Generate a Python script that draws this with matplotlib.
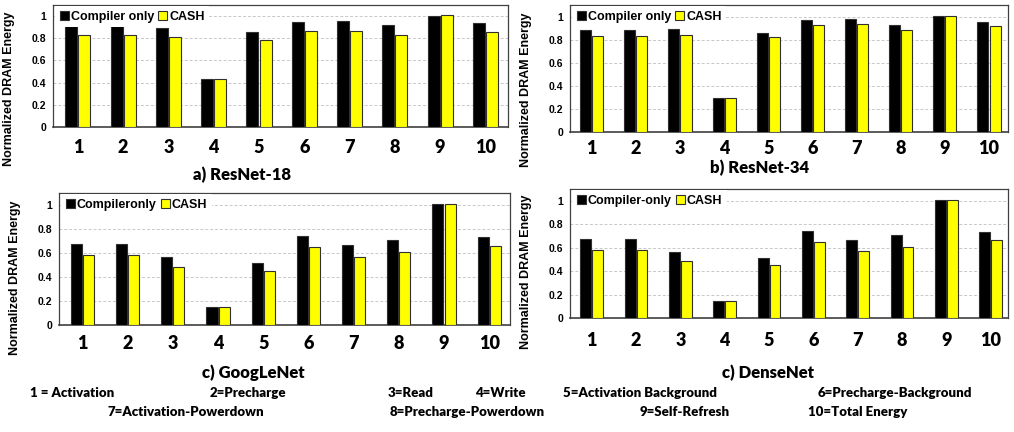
import numpy as np
import matplotlib.pyplot as plt
from matplotlib.patches import Patch

# energy components 1..10
categories = ['1', '2', '3', '4', '5', '6', '7', '8', '9', '10']

resnet18_compiler = [0.91, 0.91, 0.895, 0.434, 0.855, 0.949, 0.958, 0.916, 1.003, 0.94]
resnet18_cash = [0.834, 0.834, 0.81, 0.43, 0.783, 0.87, 0.87, 0.83, 1.009, 0.86]

resnet34_compiler = [0.882, 0.882, 0.89, 0.297, 0.859, 0.968, 0.983, 0.931, 1.003, 0.957]
resnet34_cash = [0.833, 0.833, 0.844, 0.297, 0.824, 0.928, 0.937, 0.885, 1.003, 0.919]

googlenet_compiler = [0.672, 0.672, 0.563, 0.148, 0.515, 0.742, 0.667, 0.706, 1.008, 0.737]
googlenet_cash = [0.58, 0.58, 0.482, 0.146, 0.454, 0.647, 0.569, 0.608, 1.008, 0.661]

densenet_compiler = [0.672, 0.672, 0.563, 0.148, 0.515, 0.742, 0.667, 0.706, 1.008, 0.737]
densenet_cash = [0.58, 0.58, 0.482, 0.146, 0.454, 0.647, 0.569, 0.608, 1.008, 0.661]

legend_names = ['Compiler only', 'Compiler only', 'Compileronly', 'Compiler-only']
titles = ['a) ResNet-18', 'b) ResNet-34', 'c) GoogLeNet', 'c) DenseNet']

component_rows = [
    ['1 = Activation', '2=Precharge', '3=Read', '4=Write',
     '5=Activation Background', '6=Precharge-Background'],
    ['7=Activation-Powerdown', '8=Precharge-Powerdown', '9=Self-Refresh',
     '10=Total Energy'],
]

ARIAL = 'Liberation Sans'
CALIBRI = 'Lato'

fig = plt.figure(figsize=(10.14, 4.32), dpi=100)

# (rect in pixels: left, top, right, bottom), xlim, bar width, tick pad, ylabel y, title pos
panels = [
    (resnet18_compiler, resnet18_cash, (53, 5, 508, 127), (-0.55, 9.5), 0.265, 9, 0.31, (242, 175)),
    (resnet34_compiler, resnet34_cash, (570, 5, 1008, 132), (-0.49, 9.43), 0.25, 6, 0.33, (760, 168)),
    (googlenet_compiler, googlenet_cash, (59, 193, 510, 325), (-0.52, 9.46), 0.245, 7, 0.36, (253, 373)),
    (densenet_compiler, densenet_cash, (570, 189, 1008, 318), (-0.49, 9.39), 0.245, 10, 0.357, (768, 373)),
]

W, H = 1014, 432
x = np.arange(len(categories))

for i, (comp, cash, px, xl, w, tpad, ly, tpos) in enumerate(panels):
    l, t, r, b = px
    ax = fig.add_axes([l / W, 1 - b / H, (r - l) / W, (b - t) / H])
    off = w / 2 + 0.012
    ax.bar(x - off, comp, w, color='black', edgecolor='#303030', linewidth=0.8, zorder=3)
    ax.bar(x + off, cash, w, color='#ffff00', edgecolor='#303030', linewidth=0.8, zorder=3)
    ax.set_xlim(*xl)
    ax.set_ylim(0, 1.1)
    ax.set_yticks([0, 0.2, 0.4, 0.6, 0.8, 1.0])
    ax.set_yticklabels(['0', '0.2', '0.4', '0.6', '0.8', '1'],
                       fontfamily=ARIAL, fontweight='bold', fontsize=7.5)
    ax.set_xticks(x)
    ax.set_xticklabels(categories, fontfamily=CALIBRI, fontweight='heavy', fontsize=13)
    ax.tick_params(axis='both', length=0)
    ax.tick_params(axis='x', pad=tpad)
    ax.tick_params(axis='y', pad=5)
    ax.grid(axis='y', color='#c8c8c8', linestyle=(0, (3, 2)), linewidth=0.7, zorder=0)
    for s in ax.spines.values():
        s.set_color('#404040')
        s.set_linewidth(0.9)
    ax.spines['bottom'].set_linewidth(1.2)
    ax.set_ylabel('Normalized DRAM Energy', fontfamily=ARIAL, fontweight='bold', fontsize=9)
    ax.yaxis.set_label_coords(-38 / (r - l), ly)

    handles = [Patch(facecolor='black', edgecolor='#303030', linewidth=0.8),
               Patch(facecolor='#ffff00', edgecolor='#303030', linewidth=0.8)]
    leg = ax.legend(handles, [legend_names[i], 'CASH'], loc='upper left', ncol=2,
                    bbox_to_anchor=(0.005, 0.99), borderaxespad=0, borderpad=0.35,
                    handlelength=0.75, handleheight=0.75, handletextpad=0.15,
                    columnspacing=0.3, frameon=True, fancybox=False,
                    prop={'family': ARIAL, 'weight': 'bold', 'size': 9})
    leg.get_frame().set_facecolor('white')
    leg.get_frame().set_edgecolor('none')
    leg.get_frame().set_alpha(1)
    leg.set_zorder(5)

    fig.text(tpos[0] / W, 1 - tpos[1] / H, titles[i], ha='center', va='center',
             fontfamily=CALIBRI, fontweight='heavy', fontsize=12)

row_x = [[30, 210, 388, 475, 563, 818], [108, 390, 640, 808]]
row_y = [393, 412]
for row, xs, yy in zip(component_rows, row_x, row_y):
    for label, xx in zip(row, xs):
        fig.text(xx / W, 1 - yy / H, label, ha='left', va='center',
                 fontfamily=CALIBRI, fontweight='heavy', fontsize=9.5)

fig.savefig('out.png', dpi=100)
